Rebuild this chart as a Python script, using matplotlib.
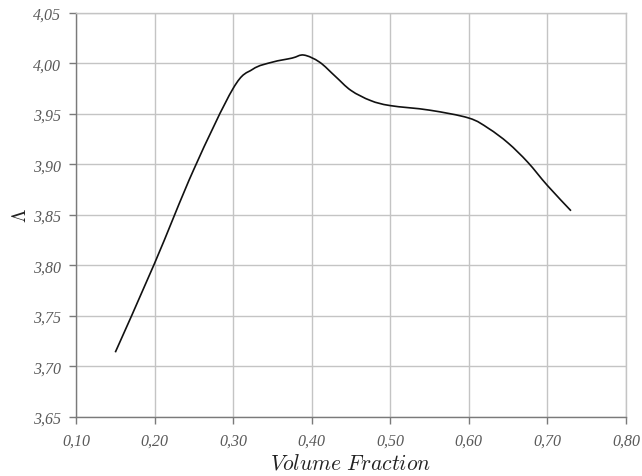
import matplotlib
matplotlib.use("Agg")
import matplotlib.pyplot as plt
import numpy as np
from matplotlib.path import Path
from matplotlib.patches import PathPatch
from matplotlib.ticker import FuncFormatter

# values
volume_fraction = [0.15, 0.20, 0.25, 0.30, 0.325, 0.35, 0.375, 0.39, 0.41,
                   0.43, 0.45, 0.475, 0.50, 0.55, 0.60, 0.625, 0.65, 0.675,
                   0.70, 0.73]
lam = [3.714, 3.802, 3.895, 3.975, 3.994, 4.001, 4.005, 4.008, 4.001,
       3.987, 3.973, 3.963, 3.958, 3.9535, 3.9457, 3.9355, 3.921, 3.902,
       3.879, 3.854]

x_ticks = [0.10, 0.20, 0.30, 0.40, 0.50, 0.60, 0.70, 0.80]
y_ticks = [3.65, 3.70, 3.75, 3.80, 3.85, 3.90, 3.95, 4.00, 4.05]


def smooth_path(xs, ys):
    """Excel-style smoothed line: Catmull-Rom segments as cubic Beziers."""
    p = np.column_stack([xs, ys])
    verts = [p[0]]
    codes = [Path.MOVETO]
    n = len(p)
    for i in range(n - 1):
        p0 = p[max(i - 1, 0)]
        p1, p2 = p[i], p[i + 1]
        p3 = p[min(i + 2, n - 1)]
        verts += [p1 + (p2 - p0) / 6, p2 - (p3 - p1) / 6, p2]
        codes += [Path.CURVE4] * 3
    return Path(verts, codes)


plt.rcParams["mathtext.fontset"] = "cm"

fig = plt.figure(figsize=(6.42, 4.77), dpi=100)
ax = fig.add_axes([0.1184, 0.1237, 0.8566, 0.8478])

ax.add_patch(PathPatch(smooth_path(volume_fraction, lam), fill=False,
                       edgecolor="#111111", lw=1.2, capstyle="butt",
                       joinstyle="round"))

ax.set_xlim(0.10, 0.80)
ax.set_ylim(3.65, 4.05)
ax.set_xticks(x_ticks)
ax.set_yticks(y_ticks)

comma = FuncFormatter(lambda v, pos: f"{v:.2f}".replace(".", ","))
ax.xaxis.set_major_formatter(comma)
ax.yaxis.set_major_formatter(comma)

ax.grid(True, color="#c4c4c4", lw=1.0)
ax.set_axisbelow(True)
for side in ("top", "right"):
    ax.spines[side].set_color("#c4c4c4")
    ax.spines[side].set_linewidth(1.0)
for side in ("left", "bottom"):
    ax.spines[side].set_color("#7a7a7a")
    ax.spines[side].set_linewidth(1.0)

ax.tick_params(direction="out", length=5, width=1, color="#7a7a7a",
               labelcolor="#5a5a5a", labelsize=11.5, pad=6)
for lbl in ax.get_xticklabels() + ax.get_yticklabels():
    lbl.set_family("Liberation Serif")
    lbl.set_style("italic")

ax.set_xlabel(r"$Volume\ Fraction$", fontsize=15.5, color="#222222", labelpad=3)
ax.set_ylabel(r"$\Lambda$", fontsize=14, color="#222222", labelpad=2)

fig.savefig("out.png", dpi=100)
